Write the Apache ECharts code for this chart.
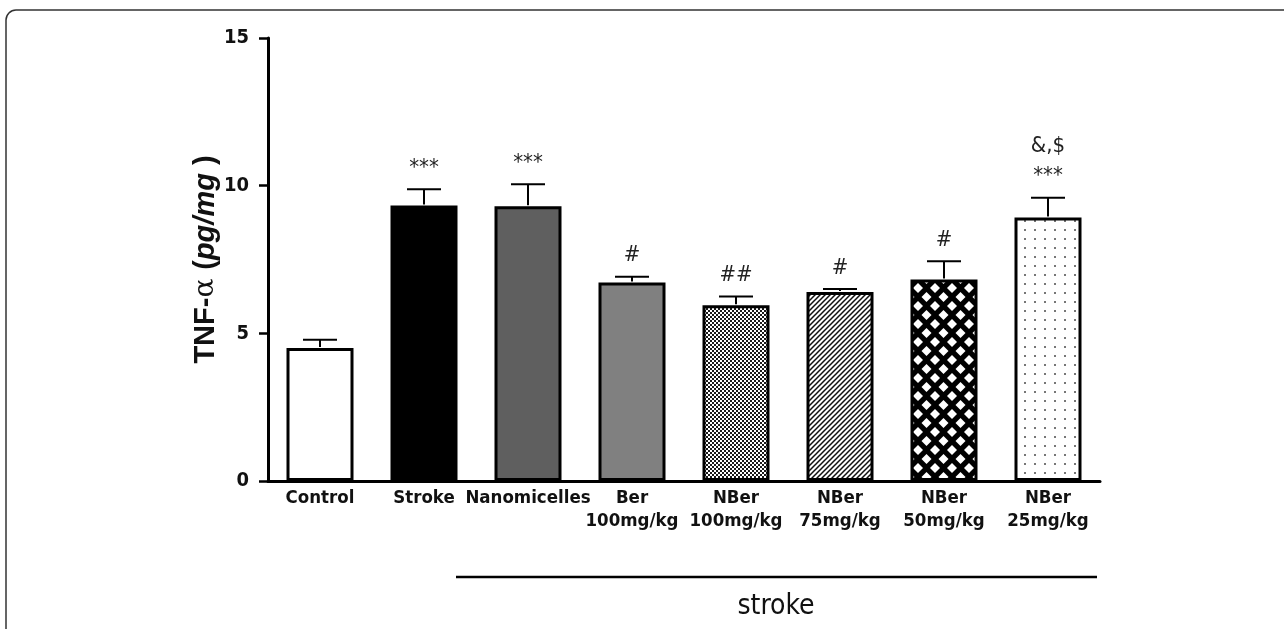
<!DOCTYPE html>
<html>
<head>
<meta charset="utf-8">
<script src="https://cdn.jsdelivr.net/npm/echarts@6/dist/echarts.min.js"></script>
<style>
  html, body { margin: 0; padding: 0; background: #fff; }
  #chart { width: 1284px; height: 629px; }
</style>
</head>
<body>
<div id="chart"></div>
<script>
// data
var categories = ['Control', 'Stroke', 'Nanomicelles', 'Ber\n100mg/kg', 'NBer\n100mg/kg', 'NBer\n75mg/kg', 'NBer\n50mg/kg', 'NBer\n25mg/kg'];
var means = [4.5, 9.33, 9.3, 6.72, 5.95, 6.4, 6.82, 8.92];
var sems = [0.28, 0.55, 0.75, 0.2, 0.3, 0.1, 0.62, 0.67];
var marks = ['', '***', '***', '#', '##', '#', '#', '&,$\n***'];
var yTicks = [0, 5, 10, 15];

var narrow = '"DejaVu Sans Condensed", "Liberation Sans", Arial, sans-serif';

// small canvas tiles for the hatched fills
function tile(w, h, draw) {
  var c = document.createElement('canvas');
  c.width = w; c.height = h;
  draw(c.getContext('2d'), w, h);
  return { image: c, repeat: 'repeat' };
}
var checker = tile(4, 4, function (g) {
  g.fillStyle = '#1a1a1a'; g.fillRect(0, 0, 4, 4);
  g.fillStyle = '#fff'; g.fillRect(0, 0, 2, 2); g.fillRect(2, 2, 2, 2);
});
var diag = tile(5, 5, function (g, w, h) {
  g.fillStyle = '#fff'; g.fillRect(0, 0, w, h);
  g.strokeStyle = '#111'; g.lineWidth = 1.5;
  g.beginPath();
  g.moveTo(-1, h + 1); g.lineTo(w + 1, -1);
  g.moveTo(-1, 1); g.lineTo(1, -1);
  g.moveTo(w - 1, h + 1); g.lineTo(w + 1, h - 1);
  g.stroke();
});
var diamonds = tile(17, 18, function (g, w, h) {
  g.fillStyle = '#000'; g.fillRect(0, 0, w, h);
  g.fillStyle = '#fff';
  var pts = [[w / 2, h / 2], [0, 0], [w, 0], [0, h], [w, h]];
  pts.forEach(function (p) {
    g.beginPath();
    g.moveTo(p[0], p[1] - 5); g.lineTo(p[0] + 5, p[1]);
    g.lineTo(p[0], p[1] + 5); g.lineTo(p[0] - 5, p[1]);
    g.closePath(); g.fill();
  });
});
var dots = tile(10, 9, function (g, w, h) {
  g.fillStyle = '#fff'; g.fillRect(0, 0, w, h);
  g.fillStyle = '#777'; g.fillRect(4, 4, 2, 2);
});
var fills = ['#fff', '#000', '#5f5f5f', '#808080', checker, diag, diamonds, dots];

var myChart = echarts.init(document.getElementById('chart'));

var option = {
  animation: false,
  backgroundColor: '#fff',
  grid: { left: 268, top: 38, width: 832, height: 443 },
  xAxis: {
    type: 'category',
    data: categories,
    axisLine: { lineStyle: { color: '#000', width: 3 } },
    axisTick: { alignWithLabel: true, length: 8, lineStyle: { color: '#000', width: 2.5 } },
    axisLabel: {
      interval: 0, margin: 6, color: '#111',
      fontFamily: narrow, fontWeight: 'bold', fontSize: 18.5, lineHeight: 23
    }
  },
  yAxis: {
    type: 'value',
    min: 0, max: 15, interval: 5,
    splitLine: { show: false },
    axisLine: { show: true, lineStyle: { color: '#000', width: 3 } },
    axisTick: { show: true, length: 9, lineStyle: { color: '#000', width: 2.5 } },
    axisLabel: {
      margin: 19, color: '#111',
      fontFamily: narrow, fontWeight: 'bold', fontSize: 20,
      formatter: function (v) { return yTicks.indexOf(v) >= 0 ? String(v) : ''; }
    },
    name: '{b|TNF-}{a|α }{b|(}{i|pg/mg}{b| )}',
    nameLocation: 'middle',
    nameGap: 48,
    nameMoveOverlap: false,
    nameTextStyle: {
      rich: {
        b: { fontFamily: 'Liberation Sans, Arial', fontWeight: 'bold', fontSize: 29, color: '#111' },
        a: { fontFamily: 'DejaVu Serif, serif', fontSize: 28, color: '#111' },
        i: { fontFamily: 'Liberation Sans, Arial', fontWeight: 'bold', fontStyle: 'italic', fontSize: 29, color: '#111' }
      }
    }
  },
  series: [
    {
      type: 'bar',
      barWidth: 67,
      z: 2,
      data: means.map(function (v, i) {
        return { value: v, itemStyle: { color: fills[i] } };
      }),
      itemStyle: { borderColor: '#000', borderWidth: 3 }
    },
    {
      type: 'custom',
      z: 3,
      data: means.map(function (v, i) { return [i, v, sems[i]]; }),
      renderItem: function (params, api) {
        var i = api.value(0);
        var base = api.coord([i, api.value(1)]);
        var top = api.coord([i, api.value(1) + api.value(2)]);
        var st = { stroke: '#000', lineWidth: 2 };
        return {
          type: 'group',
          children: [
            { type: 'line', shape: { x1: base[0], y1: base[1] - 1, x2: top[0], y2: top[1] }, style: st },
            { type: 'line', shape: { x1: top[0] - 17, y1: top[1], x2: top[0] + 17, y2: top[1] }, style: st },
            {
              type: 'text',
              x: top[0], y: top[1] - 6,
              style: {
                text: marks[i], align: 'center', verticalAlign: 'bottom',
                fontFamily: narrow, fontSize: 22, lineHeight: 30, fill: '#222'
              }
            }
          ]
        };
      }
    }
  ],
  graphic: [
    { type: 'rect', shape: { x: 6, y: 10, width: 1320, height: 700, r: 10 },
      style: { fill: 'none', stroke: '#333', lineWidth: 1.5 }, silent: true, z: 0 },
    { type: 'line', shape: { x1: 456, y1: 577, x2: 1097, y2: 577 },
      style: { stroke: '#000', lineWidth: 2.5 } },
    { type: 'text', x: 776, y: 607,
      style: { text: 'stroke', align: 'center', verticalAlign: 'middle',
        fontFamily: narrow, fontSize: 28, fill: '#111' } }
  ]
};

myChart.setOption(option);
</script>
</body>
</html>
